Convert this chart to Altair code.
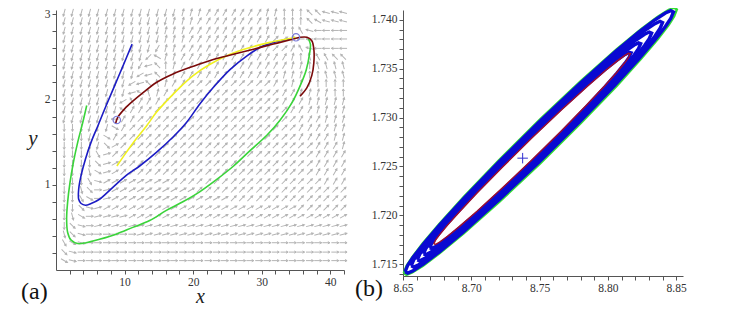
import re
import sys
import altair as alt
import pandas as pd

FONT = "Liberation Serif"

# ---------------- panel (a): direction field ----------------
FIELD_X = [1.2, 2.4, 3.7, 4.9, 6.1, 7.4, 8.6, 9.8, 11.1, 12.3, 13.5, 14.8, 16.0, 17.2,
           18.5, 19.7, 20.9, 22.2, 23.4, 24.6, 25.9, 27.1, 28.3, 29.6, 30.8, 32.0,
           33.3, 34.5, 35.7, 37.0, 38.2, 39.4, 40.7, 41.9]
FIELD_Y = [3.02, 2.92, 2.81, 2.71, 2.60, 2.50, 2.40, 2.29, 2.19, 2.08, 1.98, 1.88,
           1.77, 1.67, 1.56, 1.46, 1.36, 1.25, 1.15, 1.04, 0.94, 0.84, 0.73, 0.63,
           0.52, 0.42, 0.32, 0.21, 0.11]
# screen direction of each arrow, letter = 15 degree steps counter-clockwise from +x
# (a=0, d=45, g=90, m=180, s=270), run-length written, one row per FIELD_Y value
FIELD_ROWS = [
    "r14 f3 e7 ffggg jjlll",
    "r13 f3 e8 ffggg jklll",
    "r12 f3 e9 fffgi lm4",
    "r12 f3 e10 dcf m6",
    "r11 qf2 e11 ddei lm4",
    "r10 pkf2 e12 efg hiijj",
    "r9 qnjgf e12 eff gh4",
    "r9 onjgf e11 ef3 g2h3",
    "r8 onjhf e2 d10 e2f2 fg4",
    "r8 nkhf e2 d12 e2f2 f2g2",
    "r7 oie e2 d14 e3f f4",
    "r7 k e2 d16 de3 f4",
    "r6 m e2 d17 d2e2 ef3",
    "s3 r3 w e d18 d2e2 e2f2",
    "s3 r2 w e d18 d3e2 e2f2",
    "s4 r v c d23 e3f",
    "s4 u b d24 e4",
    "s4 v b c d23 e4",
    "s3 t w b c d23 e4",
    "s3 u x c c7 d17 de3",
    "s2 t v a b c10 d14 d4",
    "s2 u w a b c14 d14",
    "s2 v x b c23 d6",
    "s t w a b b3 c26",
    "s v x a b30",
    "t v x a6 b25",
    "u w x a31",
    "v x a32",
    "w x a32",
]
CODES = "abcdefghijklmnopqrstuvwx"

# ---------------- panel (a): trajectories ----------------
GREEN_X = [4.48, 3.9, 3.17, 2.53, 2.05, 1.7, 1.55, 1.7, 2.2, 3.17, 4.39, 6.34, 8.78,
           11.2, 13.66, 16.1, 18.5, 21.0, 23.4, 25.9, 28.3, 30.75, 32.7, 34.4, 35.6,
           36.5, 37.0, 37.1, 36.8]
GREEN_Y = [1.93, 1.73, 1.50, 1.26, 1.03, 0.80, 0.60, 0.44, 0.35, 0.31, 0.32, 0.36, 0.42,
           0.50, 0.58, 0.70, 0.80, 0.92, 1.06, 1.22, 1.40, 1.58, 1.76, 1.96, 2.16,
           2.35, 2.55, 2.65, 2.71]
BLUE_X = [11.1, 9.75, 8.54, 7.32, 6.10, 5.12, 4.29, 3.66, 3.31, 3.31, 3.66, 4.29, 5.12,
          6.34, 8.29, 10.25, 12.2, 14.64, 17.07, 19.03, 21.0, 22.93, 25.37, 27.8,
          30.25, 32.7, 34.6]
BLUE_Y = [2.65, 2.39, 2.16, 1.93, 1.69, 1.50, 1.30, 1.11, 0.95, 0.83, 0.78, 0.76, 0.78,
          0.83, 0.97, 1.11, 1.22, 1.38, 1.56, 1.73, 1.95, 2.14, 2.35, 2.51, 2.63,
          2.69, 2.71]
YELLOW_X = [8.88, 10.25, 11.7, 13.2, 14.64, 16.1, 18.05, 20.0, 22.4, 25.4, 28.3, 31.2,
            33.7, 34.9]
YELLOW_Y = [1.22, 1.38, 1.54, 1.69, 1.85, 1.98, 2.14, 2.28, 2.41, 2.53, 2.61, 2.67,
            2.71, 2.73]
RED_X = [8.7, 9.0, 10.0, 11.2, 12.7, 14.64, 17.07, 20.0, 22.93, 25.86, 28.8, 31.7,
         34.2, 35.6, 36.6, 37.3, 37.6, 37.6, 37.3, 36.6, 35.6]
RED_Y = [1.72, 1.79, 1.89, 1.98, 2.08, 2.20, 2.30, 2.39, 2.47, 2.53, 2.59, 2.65,
         2.70, 2.73, 2.73, 2.69, 2.59, 2.43, 2.28, 2.14, 2.04]
EQ_X = [8.87, 35.0]
EQ_Y = [1.76, 2.73]

A_X_TICKS = [2, 4, 6, 8, 10, 12, 14, 16, 18, 20, 22, 24, 26, 28, 30, 32, 34, 36, 38, 40, 42]
A_Y_TICKS = [0.2, 0.4, 0.6, 0.8, 1, 1.2, 1.4, 1.6, 1.8, 2, 2.2, 2.4, 2.6, 2.8, 3]

# ---------------- panel (b): closed orbits near the focus ----------------
LOOP_NAME = ["green", "blue1", "blue2", "blue3", "blue4", "blue5", "red"]
LOOP_X0 = [8.6505, 8.6515, 8.656, 8.6605, 8.665, 8.6695, 8.6725]
LOOP_Y0 = [1.7141, 1.71423, 1.71484, 1.71545, 1.71606, 1.71667, 1.71707]
LOOP_X1 = [8.8505, 8.848, 8.840, 8.832, 8.824, 8.817, 8.8165]
LOOP_Y1 = [1.74105, 1.7408, 1.73972, 1.73864, 1.73755, 1.73661, 1.73654]
LOOP_HALF = [0.00226, 0.00203, 0.00185, 0.00167, 0.00149, 0.00131, 0.00112]
# lens profile of the loops (fraction along the loop, relative half width)
PROFILE_T = [0, 0.01, 0.03, 0.07, 0.13, 0.22, 0.35, 0.5, 0.65, 0.78, 0.87, 0.93, 0.97, 0.99, 1]
PROFILE_W = [0, 0.2, 0.34, 0.51, 0.67, 0.83, 0.95, 1, 0.95, 0.83, 0.67, 0.51, 0.34, 0.2, 0]
CENTER_X = [8.7376]
CENTER_Y = [1.72585]

B_X_TICKS = [8.65, 8.66, 8.67, 8.68, 8.69, 8.70, 8.71, 8.72, 8.73, 8.74, 8.75, 8.76,
             8.77, 8.78, 8.79, 8.80, 8.81, 8.82, 8.83, 8.84, 8.85]
B_Y_TICKS = [1.714, 1.715, 1.716, 1.717, 1.718, 1.719, 1.720, 1.721, 1.722, 1.723, 1.724,
             1.725, 1.726, 1.727, 1.728, 1.729, 1.730, 1.731, 1.732, 1.733, 1.734,
             1.735, 1.736, 1.737, 1.738, 1.739, 1.740]


def expand(row):
    out = ""
    for tok in row.split():
        for letter, num in re.findall(r"([a-x])(\d*)", tok):
            out += letter * (int(num) if num else 1)
    return out


field_records = []
for yv, row in zip(FIELD_Y, FIELD_ROWS):
    s = expand(row)
    if len(s) != len(FIELD_X):
        print("row length", len(s), row, file=sys.stderr)
    for xv, ch in zip(FIELD_X, s):
        a = CODES.index(ch) * 15
        field_records.append({"x": xv, "y": yv, "rot": (360 - a) % 360})
field_df = pd.DataFrame(field_records)

traj = []
for name, XS, YS in [("green", GREEN_X, GREEN_Y), ("blue", BLUE_X, BLUE_Y),
                     ("yellow", YELLOW_X, YELLOW_Y), ("red", RED_X, RED_Y)]:
    for i, (a, b) in enumerate(zip(XS, YS)):
        traj.append({"series": name, "x": a, "y": b, "i": i})
traj_df = pd.DataFrame(traj)
eq_df = pd.DataFrame({"x": EQ_X, "y": EQ_Y})

loops = []
for k, name in enumerate(LOOP_NAME):
    x0, y0, x1, y1, h = LOOP_X0[k], LOOP_Y0[k], LOOP_X1[k], LOOP_Y1[k], LOOP_HALF[k]
    n = 0
    for t, w in zip(PROFILE_T, PROFILE_W):
        loops.append({"loop": name, "x": x0 + t * (x1 - x0), "y": y0 + t * (y1 - y0) + w * h, "i": n})
        n += 1
    for t, w in list(zip(PROFILE_T, PROFILE_W))[::-1][1:]:
        loops.append({"loop": name, "x": x0 + t * (x1 - x0), "y": y0 + t * (y1 - y0) - w * h, "i": n})
        n += 1
loop_df = pd.DataFrame(loops)
center_df = pd.DataFrame({"x": CENTER_X, "y": CENTER_Y})


def ax(**kw):
    base = dict(domainColor="#555", tickColor="#555", tickSize=4, labelFont=FONT,
                labelFontSize=11.5, labelColor="#333", grid=False, labelPadding=2,
                domainWidth=1, tickWidth=1, labelOverlap=False, labelFlush=False,
                tickCount=100)
    base.update(kw)
    return alt.Axis(**base)


xa = alt.Scale(domain=[0, 42], nice=False, zero=False)
ya = alt.Scale(domain=[0, 3.05], nice=False, zero=False)
x_axis_a = ax(values=A_X_TICKS,
              labelExpr="datum.value % 10 == 0 ? format(datum.value, 'd') : ''",
              title="x", titleFont=FONT, titleFontStyle="italic", titleFontWeight="normal",
              titleFontSize=20, titleColor="#222", titleY=32, titleBaseline="alphabetic")
y_axis_a = ax(values=A_Y_TICKS,
              labelExpr="datum.value % 1 == 0 ? format(datum.value, 'd') : ''",
              title="y", titleFont=FONT, titleFontStyle="italic", titleFontWeight="normal",
              titleFontSize=21, titleColor="#222", titleAngle=0, titleX=-19, titleY=128,
              titleAlign="right", titleBaseline="middle")

ARROW = "M-1,0L1,0M0.45,-0.3L1,0L0.45,0.3"
arrows = alt.Chart(field_df).mark_point(
    shape=ARROW, filled=False, color="#b4b4b4", strokeWidth=1, size=56, opacity=1
).encode(
    x=alt.X("x:Q", scale=xa, axis=x_axis_a),
    y=alt.Y("y:Q", scale=ya, axis=y_axis_a),
    angle=alt.Angle("rot:Q", scale=None),
)
curves = alt.Chart(traj_df).mark_line(strokeWidth=1.6, interpolate="catmull-rom").encode(
    x=alt.X("x:Q", scale=xa),
    y=alt.Y("y:Q", scale=ya),
    color=alt.Color("series:N", legend=None,
                    scale=alt.Scale(domain=["green", "blue", "yellow", "red"],
                                    range=["#3ad43a", "#1c1cc4", "#f0f020", "#7a0a0a"])),
    order="i:Q",
    detail="series:N",
)
eq_pts = alt.Chart(eq_df).mark_point(shape="circle", filled=False, color="#7c7cd8",
                                     size=55, strokeWidth=1.2, opacity=1).encode(
    x=alt.X("x:Q", scale=xa), y=alt.Y("y:Q", scale=ya))

left = alt.layer(arrows, curves, eq_pts).properties(
    width=288, height=260,
    title=alt.TitleParams("(a)", orient="bottom", anchor="start", frame="group",
                          dx=-35, dy=-7, font=FONT, fontSize=24, fontWeight="normal",
                          color="#111", baseline="alphabetic", offset=0),
)

xb = alt.Scale(domain=[8.65, 8.855], nice=False, zero=False)
yb = alt.Scale(domain=[1.7138, 1.741], nice=False, zero=False)
x_axis_b = ax(values=B_X_TICKS, title=None,
              labelExpr="round(datum.value*100) % 5 == 0 ? format(datum.value, '.2f') : ''")
y_axis_b = ax(values=B_Y_TICKS, title=None,
              labelExpr="round(datum.value*1000) % 5 == 0 ? format(datum.value, '.3f') : ''")

green_loop = alt.Chart(loop_df).transform_filter("datum.loop == 'green'").mark_line(
    color="#33dd33", strokeWidth=2.4).encode(
    x=alt.X("x:Q", scale=xb, axis=x_axis_b), y=alt.Y("y:Q", scale=yb, axis=y_axis_b),
    order="i:Q", detail="loop:N")
blue_loops = alt.Chart(loop_df).transform_filter("indexof(datum.loop, 'blue') == 0").mark_line(
    color="#0a0ad2", strokeWidth=3.4).encode(
    x=alt.X("x:Q", scale=xb), y=alt.Y("y:Q", scale=yb), order="i:Q", detail="loop:N")
red_loop = alt.Chart(loop_df).transform_filter("datum.loop == 'red'").mark_line(
    color="#a0102a", strokeWidth=1.4).encode(
    x=alt.X("x:Q", scale=xb), y=alt.Y("y:Q", scale=yb), order="i:Q", detail="loop:N")
center = alt.Chart(center_df).mark_point(shape="M-1,0L1,0M0,-1L0,1", filled=False,
                                         color="#3030d0", size=110, strokeWidth=1,
                                         opacity=1).encode(
    x=alt.X("x:Q", scale=xb), y=alt.Y("y:Q", scale=yb))

right = alt.layer(green_loop, blue_loops, red_loop, center).properties(
    width=280, height=266,
    title=alt.TitleParams("(b)", orient="bottom", anchor="start", frame="group",
                          dx=-48, dy=2, font=FONT, fontSize=24, fontWeight="normal",
                          color="#111", baseline="alphabetic", offset=0),
)

chart = alt.hconcat(left, right, spacing=5).properties(
    padding={"left": 13, "top": -6, "right": 5, "bottom": 0},
    background="white",
).configure_view(stroke=None)

chart.save("out.html", embed_options={"renderer": "svg", "actions": False})
